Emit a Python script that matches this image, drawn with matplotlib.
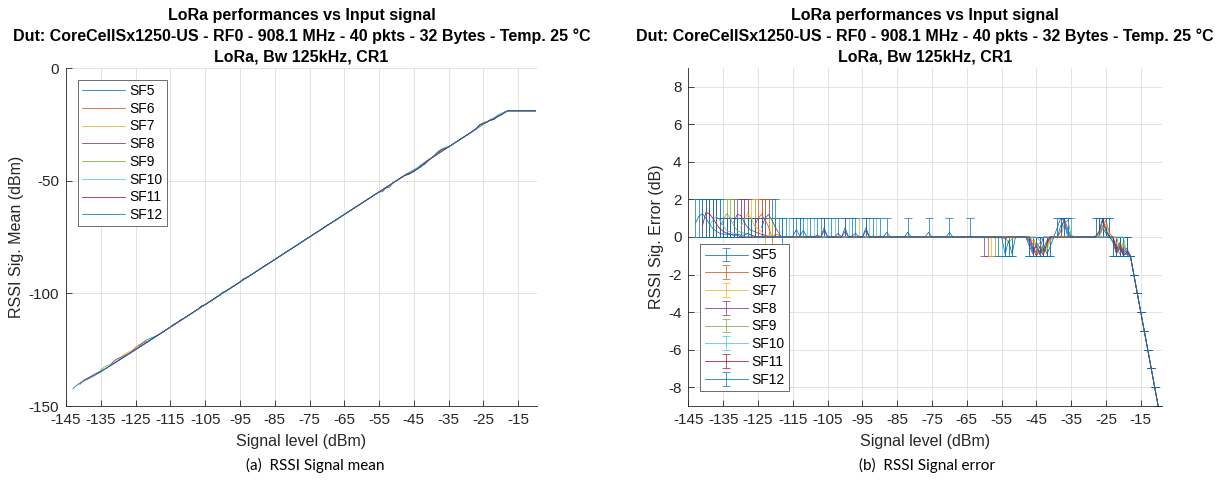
import numpy as np
import matplotlib.pyplot as plt

plt.rcParams['font.family'] = ['Liberation Sans', 'DejaVu Sans']
plt.rcParams['axes.unicode_minus'] = False

# sweep of the input level, 1 dB step
levels = np.arange(-145, -9)

sf_names = ['SF5', 'SF6', 'SF7', 'SF8', 'SF9', 'SF10', 'SF11', 'SF12']
sf_colors = ['#0072BD', '#D95319', '#EDB120', '#7E2F8E', '#77AC30', '#4DBEEE', '#A2142F', '#0072BD']
# first level where packets are received
sf_first = [-124, -126, -130, -132, -136, -139, -141, -143]

# mean / max error just above sensitivity (1 dB steps from sf_first), min is 0
sens_mean = [
    [0.5, 1.0, 1.2, 0.9, 0.5, 0.2],
    [0.6, 1.0, 1.2, 0.9, 0.55],
    [0.5, 0.9, 1.25, 1.0, 0.6, 0.4, 0.3],
    [0.8, 1.2, 1.15, 0.8, 0.5, 0.35, 0.3, 0.2, 0.15, 0.1],
    [0.5, 0.9, 1.25, 1.0, 0.6, 0.35, 0.25, 0.2, 0.15, 0.1],
    [0.6, 0.9, 1.1, 0.9, 0.6, 0.35, 0.25, 0.2, 0.15, 0.1],
    [0.6, 1.3, 1.25, 1.0, 0.7, 0.45, 0.3, 0.2, 0.15, 0.1, 0.1],
    [0.75, 1.1, 1.25, 1.0, 0.7, 0.45, 0.3, 0.2, 0.15, 0.15, 0.12, 0.1, 0.15, 0.1, 0.1, 0.2, 0.1, 0.05],
]
sens_max = [
    [2, 2, 2, 2, 2, 1],
    [2, 2, 2, 2, 2],
    [2, 2, 2, 2, 2, 1, 1],
    [2, 2, 2, 2, 2, 1, 1, 1, 1, 1],
    [2, 2, 2, 2, 2, 1, 1, 1, 1, 1],
    [2, 2, 2, 2, 1, 1, 1, 1, 1, 1],
    [2, 2, 2, 2, 2, 1, 1, 1, 1, 1, 1],
    [2, 2, 2, 2, 2, 2, 2, 2, 1, 1, 1, 1, 1, 1, 1, 1, 1, 1],
]

# other non-zero points: (level, mean, min, max); error is 0 elsewhere
ev_sf5 = [(-118, -0.05, -1, 1), (-117, 0.05, 0, 1), (-113, 0.02, 0, 1), (-107, 0.02, 0, 1),
          (-47, -0.3, -1, 0), (-46, -0.8, -1, 0), (-45, -0.4, -1, 0), (-44, -0.9, -1, 0),
          (-43, -0.6, -1, 0), (-42, -0.2, -1, 0), (-38, 0.6, 0, 1), (-37, 0.8, 0, 1),
          (-26, 0.5, 0, 1), (-25, 0.2, 0, 1), (-23, -0.2, -1, 0), (-22, -0.7, -1, 0),
          (-21, -0.3, -1, 0), (-20, -0.8, -1, 0), (-19, -0.6, -1, 0)]
ev_sf6 = [(-121, -0.05, -1, 1), (-120, 0.15, 0, 1), (-119, 0.1, 0, 1), (-59, -0.05, -1, 0),
          (-46, -0.4, -1, 0), (-45, -0.9, -1, 0), (-44, -0.5, -1, 0), (-43, -0.8, -1, 0),
          (-42, -0.4, -1, 0), (-27, 0.1, 0, 1), (-26, 0.6, 0, 1), (-25, 0.9, 0, 1),
          (-24, 0.2, 0, 1), (-22, -0.5, -1, 0), (-21, -0.9, -1, 0), (-20, -0.5, -1, 0),
          (-19, -0.9, -1, 0)]
ev_sf7 = [(-123, -0.05, -1, 1), (-122, 0.1, 0, 1), (-121, 0.05, 0, 1), (-96, 0.05, 0, 1),
          (-58, -0.05, -1, 0), (-46, -0.2, -1, 0), (-45, -0.6, -1, 0), (-44, -0.95, -1, 0),
          (-43, -0.5, -1, 0), (-42, -0.7, -1, 0), (-41, -0.2, -1, 0), (-26, 0.4, 0, 1),
          (-25, 0.7, 0, 1), (-24, 0.1, 0, 1), (-23, -0.1, -1, 0), (-22, -0.3, -1, 0),
          (-21, -0.7, -1, 0), (-20, -0.4, -1, 0), (-19, -0.95, -1, 0)]
ev_sf8 = [(-60, -0.05, -1, 0), (-54, -0.1, -1, 0), (-47, -0.5, -1, 0), (-46, -0.9, -1, 0),
          (-45, -0.3, -1, 0), (-44, -0.6, -1, 0), (-38, 0.3, 0, 1), (-37, 1.0, 1, 1),
          (-36, 0.4, 0, 1), (-22, -0.6, -1, 0), (-21, -0.4, -1, 0), (-20, -0.9, -1, 0),
          (-19, -0.7, -1, 0)]
ev_sf9 = [(-57, -0.05, -1, 0), (-53, -0.3, -1, 0), (-52, -0.1, -1, 0), (-45, -0.5, -1, 0),
          (-44, -0.3, -1, 0), (-43, -0.9, -1, 0), (-42, -0.5, -1, 0), (-41, -0.1, -1, 0),
          (-37, 0.7, 0, 1), (-36, 0.9, 0, 1), (-35, 0.1, 0, 1), (-21, -0.6, -1, 0),
          (-20, -0.3, -1, 0), (-19, -0.8, -1, 0)]
ev_sf10 = [(-119, 0.02, 0, 1), (-116, 0.02, 0, 1), (-111, 0.02, 0, 1), (-109, 0.02, 0, 1),
           (-105, 0.02, 0, 1), (-103, 0.02, 0, 1), (-99, 0.02, 0, 1), (-95, 0.02, 0, 1),
           (-93, 0.02, 0, 1), (-91, 0.02, 0, 1), (-55, -0.05, -1, 0), (-47, -0.1, -1, 0),
           (-44, -0.2, -1, 0), (-41, -0.1, -1, 0), (-39, 0.05, 0, 1), (-36, 0.05, 0, 1),
           (-35, 0.05, 0, 1), (-28, 0.05, 0, 1), (-24, 0.05, 0, 1), (-23, -0.05, -1, 0),
           (-19, -0.9, -1, 0)]
ev_sf11 = [(-106, 0.35, 0, 1), (-100, 0.3, 0, 1), (-94, 0.35, 0, 1), (-46, -0.6, -1, 0),
           (-45, -1.0, -1, -1), (-44, -0.7, -1, 0), (-43, -0.95, -1, 0), (-42, -0.3, -1, 0),
           (-27, 0.3, 0, 1), (-26, 0.95, 0, 1), (-25, 0.4, 0, 1), (-22, -0.8, -1, 0),
           (-21, -0.5, -1, 0), (-20, -1.0, -1, -1), (-19, -0.8, -1, 0)]
ev_sf12 = [(-124, 0.05, 0, 1), (-120, 0.02, 0, 1), (-118, 0.02, 0, 1), (-115, 0.05, 0, 1),
           (-114, 0.4, 0, 1), (-113, 0.05, 0, 1), (-112, 0.35, 0, 1), (-110, 0.05, 0, 1),
           (-108, 0.1, 0, 1), (-106, 0.5, 0, 1), (-104, 0.05, 0, 1), (-102, 0.2, 0, 1),
           (-100, 0.5, 0, 1), (-98, 0.05, 0, 1), (-97, 0.2, 0, 1), (-94, 0.5, 0, 1),
           (-92, 0.05, 0, 1), (-90, 0.05, 0, 1), (-88, 0.25, 0, 1), (-82, 0.25, 0, 1),
           (-76, 0.25, 0, 1), (-70, 0.25, 0, 1), (-64, 0.05, 0, 1), (-56, -0.05, -1, 0),
           (-54, -0.9, -1, 0), (-53, -0.2, -1, 0), (-52, -0.9, -1, 0), (-47, -0.2, -1, 0),
           (-46, -0.7, -1, 0), (-45, -0.5, -1, 0), (-44, -0.95, -1, 0), (-43, -0.4, -1, 0),
           (-42, -0.9, -1, 0), (-41, -0.5, -1, 0), (-39, 0.5, 0, 1), (-38, 1.0, 1, 1),
           (-37, 0.9, 0, 1), (-36, 0.2, 0, 1), (-28, 0.05, 0, 1), (-27, 0.2, 0, 1),
           (-26, 0.85, 0, 1), (-25, 0.3, 0, 1), (-24, 0.05, 0, 1), (-23, -0.3, -1, 0),
           (-22, -0.9, -1, 0), (-21, -0.6, -1, 0), (-20, -0.95, -1, 0), (-19, -0.9, -1, 0)]
events = [ev_sf5, ev_sf6, ev_sf7, ev_sf8, ev_sf9, ev_sf10, ev_sf11, ev_sf12]

# receiver saturation: RSSI stuck at -19 dBm
sat_levels = [-18, -17, -16, -15, -14, -13, -12, -11, -10]
sat_error = [-1, -2, -3, -4, -5, -6, -7, -8, -9]

title = ('LoRa performances vs Input signal\n'
         'Dut: CoreCellSx1250-US - RF0 - 908.1 MHz - 40 pkts - 32 Bytes - Temp. 25 \u00b0C\n'
         'LoRa, Bw 125kHz, CR1')
axc = '#262626'

fig = plt.figure(figsize=(12.18, 4.95), dpi=100)
ax1 = fig.add_axes([66 / 1218, 1 - 406 / 495, 471 / 1218, 338 / 495])
ax2 = fig.add_axes([688.5 / 1218, 1 - 406 / 495, 473.5 / 1218, 338 / 495])

for k, name in enumerate(sf_names):
    x = levels[levels >= sf_first[k]]
    mean = np.zeros(len(x))
    lo = np.zeros(len(x))
    hi = np.zeros(len(x))
    n = len(sens_mean[k])
    mean[:n] = sens_mean[k]
    hi[:n] = sens_max[k]
    idx = {int(v): i for i, v in enumerate(x)}
    for lvl, m, mn, mx in events[k]:
        i = idx[lvl]
        mean[i], lo[i], hi[i] = m, mn, mx
    for lvl, e in zip(sat_levels, sat_error):
        i = idx[lvl]
        mean[i], lo[i], hi[i] = e, e, e

    ax1.plot(x, x + mean, color=sf_colors[k], lw=0.55, label=name)
    ax2.errorbar(x, mean, yerr=[mean - lo, hi - mean], color=sf_colors[k], lw=0.55,
                 elinewidth=0.5, capsize=2.6, capthick=0.5, label=name)

for ax in (ax1, ax2):
    ax.set_xticks(np.arange(-145, -14, 10))
    ax.grid(True, color='#dedede', lw=0.6)
    ax.set_axisbelow(True)
    for s in ('top', 'right'):
        ax.spines[s].set_visible(False)
    for s in ('left', 'bottom'):
        ax.spines[s].set_color(axc)
        ax.spines[s].set_linewidth(0.6)
    ax.tick_params(direction='in', length=4.5, width=0.6, colors=axc, labelsize=11, pad=5)
    ax.set_xlabel('Signal level (dBm)', fontsize=11.5, color=axc, labelpad=5)
    ax.set_title(title, fontsize=11.5, fontweight='bold', linespacing=1.43, pad=5)

ax1.set_xlim(-145, -9.6)
ax1.set_ylim(-150, 0)
ax1.set_yticks([-150, -100, -50, 0])
ax1.set_ylabel('RSSI Sig. Mean (dBm)', fontsize=11.5, color=axc, labelpad=3)
leg_kw = dict(fontsize=10, handlelength=3.1, handletextpad=0.3, labelspacing=0.27,
              borderpad=0.3, fancybox=False, framealpha=1, edgecolor='#555555',
              borderaxespad=0)
leg1 = ax1.legend(loc='upper left', bbox_to_anchor=(0.025, 0.965), **leg_kw)
leg1.get_frame().set_linewidth(0.6)

ax2.set_xlim(-145, -8.9)
ax2.set_ylim(-9, 9)
ax2.set_yticks(np.arange(-8, 9, 2))
ax2.set_ylabel('RSSI Sig. Error (dB)', fontsize=11.5, color=axc, labelpad=3)
leg2 = ax2.legend(loc='lower left', bbox_to_anchor=(0.025, 0.045), **leg_kw)
leg2.get_frame().set_linewidth(0.6)

fig.text(315 / 1218, 1 - 465 / 495, '(a)  RSSI Signal mean', ha='center', va='center',
         fontsize=11, family=['Lato', 'DejaVu Sans'])
fig.text(927 / 1218, 1 - 465 / 495, '(b)  RSSI Signal error', ha='center', va='center',
         fontsize=11, family=['Lato', 'DejaVu Sans'])

fig.savefig('out.png', dpi=100)
